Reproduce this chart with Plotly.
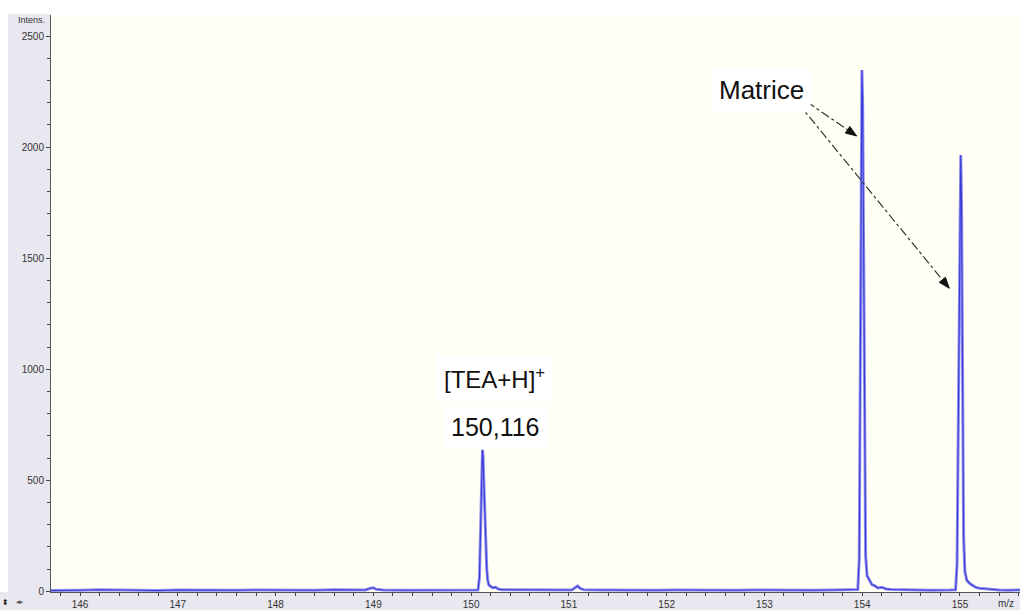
import math
import plotly.graph_objects as go

# Mass spectrum profile: m/z and intensity
mz = [
    145.70, 145.85, 146.00, 146.20, 146.40, 146.60, 146.80, 147.00, 147.20, 147.40,
    147.60, 147.80, 148.00, 148.20, 148.40, 148.60, 148.80, 148.92, 148.97, 149.00,
    149.03, 149.10, 149.30, 149.50, 149.70, 149.90, 150.07, 150.085, 150.095, 150.105,
    150.112, 150.116, 150.121, 150.13, 150.14, 150.15, 150.16, 150.17, 150.18, 150.20,
    150.22, 150.25, 150.28, 150.32, 150.50, 150.70, 150.90, 151.03, 151.07, 151.09,
    151.11, 151.15, 151.30, 151.50, 151.70, 151.90, 152.10, 152.30, 152.50, 152.70,
    152.90, 153.10, 153.30, 153.50, 153.70, 153.90, 153.955, 153.97, 153.98, 153.99,
    153.997, 154.005, 154.015, 154.025, 154.035, 154.05, 154.07, 154.10, 154.13, 154.16,
    154.20, 154.25, 154.30, 154.50, 154.70, 154.90, 154.955, 154.97, 154.985, 155.00,
    155.008, 155.016, 155.027, 155.037, 155.05, 155.07, 155.10, 155.13, 155.16, 155.20,
    155.25, 155.30, 155.40, 155.50, 155.62,
]
intensity = [
    4, 6, 5, 7, 5, 6, 4, 6, 5, 7,
    5, 6, 5, 6, 5, 7, 5, 6, 14, 16,
    9, 6, 5, 6, 5, 6, 6, 60, 250, 500,
    610, 638, 615, 480, 330, 200, 100, 50, 30, 22,
    16, 18, 10, 7, 6, 5, 6, 6, 18, 24,
    15, 7, 6, 5, 7, 5, 6, 5, 6, 5,
    6, 5, 6, 5, 6, 6, 8, 150, 900, 1900,
    2347, 2200, 1300, 500, 160, 70, 55, 30, 25, 15,
    18, 10, 8, 6, 5, 6, 7, 120, 900, 1700,
    1964, 1750, 800, 250, 90, 50, 35, 25, 18, 14,
    12, 9, 6, 5, 6,
]

# Labelled ion peak
tea_mz = 150.116

y_ticks = [0, 500, 1000, 1500, 2000, 2500]
x_ticks = [146, 147, 148, 149, 150, 151, 152, 153, 154, 155]

W, H = 1020, 610
ML, MT, MB = 51, 15, 18
PW, PH = W - ML, H - MT - MB
X_RANGE = [145.703, 155.614]
Y_RANGE = [-3, 2595]

LAVENDER = "#E9E7EF"
CREAM = "#FFFFF6"
FONT = "Liberation Sans, Arial, sans-serif"

fig = go.Figure()
# soft outer stroke, then the darker core line
fig.add_trace(go.Scatter(x=mz, y=intensity, mode="lines",
                         line=dict(color="#9090f0", width=3.0),
                         hoverinfo="skip", showlegend=False))
fig.add_trace(go.Scatter(x=mz, y=intensity, mode="lines",
                         line=dict(color="#3a3ad6", width=1.1),
                         showlegend=False))


def px_to_x(px):
    return X_RANGE[0] + (px - ML) / PW * (X_RANGE[1] - X_RANGE[0])


def py_to_y(py):
    return Y_RANGE[1] - (py - MT) / PH * (Y_RANGE[1] - Y_RANGE[0])


shapes = [
    # window chrome around the plot area
    dict(type="rect", xref="paper", yref="paper", layer="below",
         x0=-(ML - 8) / PW, x1=0, y0=-MB / PH, y1=1 + 1 / PH,
         fillcolor=LAVENDER, line=dict(width=0)),
    dict(type="rect", xref="paper", yref="paper", layer="below",
         x0=-ML / PW, x1=1, y0=-MB / PH, y1=0,
         fillcolor=LAVENDER, line=dict(width=0)),
]

# dash-dot leader arrows from the "Matrice" label towards the matrix peaks
arrows_px = [((806.7, 101.7), (856.7, 136.0)), ((798.0, 103.0), (949.3, 288.3))]
HEAD_LEN, HEAD_HALF = 11.0, 4.0
for (sx, sy), (tx, ty) in arrows_px:
    dx, dy = tx - sx, ty - sy
    n = math.hypot(dx, dy)
    ux, uy = dx / n, dy / n
    bx, by = tx - HEAD_LEN * ux, ty - HEAD_LEN * uy
    shapes.append(dict(type="line", xref="x", yref="y",
                       x0=px_to_x(sx), y0=py_to_y(sy), x1=px_to_x(bx), y1=py_to_y(by),
                       line=dict(color="#333333", width=1.2, dash="dashdot")))
    pts = [(tx, ty), (bx - HEAD_HALF * uy, by + HEAD_HALF * ux),
           (bx + HEAD_HALF * uy, by - HEAD_HALF * ux)]
    path = "M " + " L ".join(f"{px_to_x(a):.5f},{py_to_y(b):.3f}" for a, b in pts) + " Z"
    shapes.append(dict(type="path", xref="x", yref="y", path=path,
                       fillcolor="#111111", line=dict(color="#111111", width=1)))

annotations = [
    dict(x=px_to_x(494), y=py_to_y(378), xref="x", yref="y",
         text="[TEA+H]<sup>+</sup>", showarrow=False,
         font=dict(family=FONT, size=24, color="#111111"),
         bgcolor="white", borderpad=8),
    dict(x=px_to_x(495), y=py_to_y(427), xref="x", yref="y",
         text=f"{tea_mz:.3f}".replace(".", ","), showarrow=False,
         font=dict(family=FONT, size=25, color="#111111"),
         bgcolor="white", borderpad=8),
    dict(x=px_to_x(761), y=py_to_y(90), xref="x", yref="y",
         text="Matrice", showarrow=False,
         font=dict(family=FONT, size=26, color="#111111"),
         bgcolor="white", borderpad=6),
    dict(x=(31 - ML) / PW, y=1 - (19.5 - MT) / PH, xref="paper", yref="paper",
         text="Intens.", showarrow=False, xanchor="center", yanchor="middle",
         font=dict(family=FONT, size=9, color="#333333")),
    dict(x=(996 - ML) / PW, y=-(603 - (H - MB)) / PH, xref="paper", yref="paper",
         text="m/z", showarrow=False, xanchor="left", yanchor="middle",
         font=dict(family=FONT, size=10, color="#333333")),
    dict(x=(5 - ML) / PW, y=-(602 - (H - MB)) / PH, xref="paper", yref="paper",
         text="⬍", showarrow=False, xanchor="center", yanchor="middle",
         font=dict(family="DejaVu Sans", size=8, color="#222222")),
    dict(x=(20 - ML) / PW, y=-(602 - (H - MB)) / PH, xref="paper", yref="paper",
         text="◂▸", showarrow=False, xanchor="center", yanchor="middle",
         font=dict(family="DejaVu Sans", size=7, color="#555555")),
]

fig.update_layout(
    width=W, height=H,
    margin=dict(l=ML, r=0, t=MT, b=MB, pad=0),
    paper_bgcolor="white", plot_bgcolor=CREAM,
    shapes=shapes, annotations=annotations,
    font=dict(family=FONT, size=10, color="#333333"),
    xaxis=dict(range=X_RANGE, tickvals=x_ticks, ticks="outside", ticklen=3,
               tickcolor="#444444", showline=True, linecolor="#555555", linewidth=1,
               showgrid=False, zeroline=False, tickfont=dict(size=10, color="#333333"),
               minor=dict(dtick=0.2, ticks="outside", ticklen=3, tickcolor="#444444")),
    yaxis=dict(range=Y_RANGE, tickvals=y_ticks, ticks="outside", ticklen=4,
               tickcolor="#444444", showline=True, linecolor="#555555", linewidth=1,
               showgrid=False, zeroline=False, tickfont=dict(size=10, color="#333333"),
               minor=dict(dtick=100, ticks="outside", ticklen=3, tickcolor="#444444")),
)

fig.write_html("out.html")
